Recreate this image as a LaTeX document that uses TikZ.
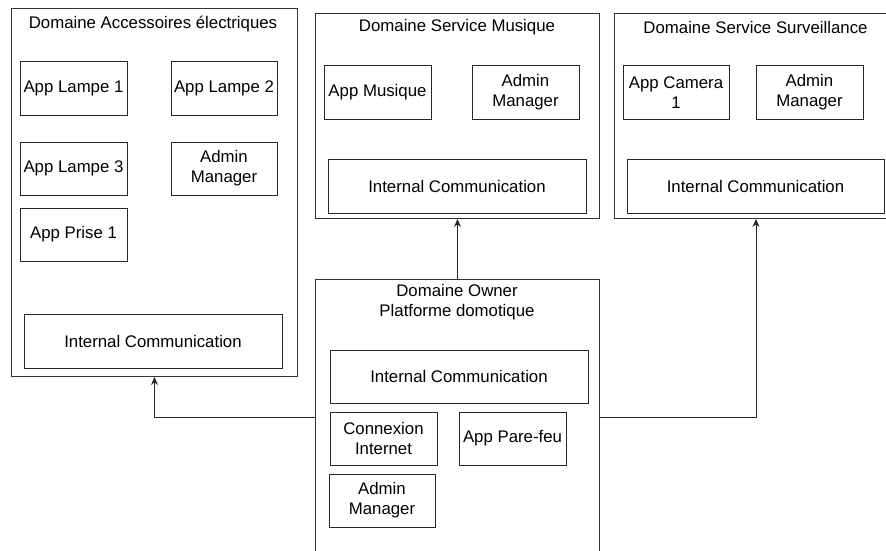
\documentclass[tikz,border=0pt]{standalone}
\usepackage{fontspec}
\setmainfont{Liberation Sans}
\usetikzlibrary{arrows.meta}
\begin{document}
\begin{tikzpicture}[x=1pt,y=-1pt,
  every node/.style={font=\fontsize{16.8}{20}\selectfont, align=center, inner sep=0pt},
  outer/.style={draw=black!80, line width=1pt, anchor=north west},
  inbox/.style={draw=black!85, line width=1pt, minimum width=#1, minimum height=53},
  inbox/.default=107,
  title/.style={anchor=center},
  arr/.style={draw=black!85, line width=1pt, -{Stealth[length=8pt,width=7pt]}}]
\useasboundingbox (0,0) rectangle (886,551);
\clip (0,0) rectangle (886,551);
% outer domains
\node[outer, minimum width=286, minimum height=368] (A) at (11,8) {};
\node[outer, minimum width=284, minimum height=205] (M) at (315,13) {};
\node[outer, minimum width=283, minimum height=205] (S) at (614,13) {};
\node[outer, minimum width=284, minimum height=320] (O) at (315,279) {};
% titles
\node[title] (At) at (153,24) {Domaine Accessoires électriques};
\node[title] (Mt) at (457,27) {Domaine Service Musique};
\node[title] (St) at (755.5,27) {Domaine Service Surveillance};
\node[title] (Ot) at (457,302.5) {Domaine Owner\\Platforme domotique};
% domain A
\node[inbox] (AL1) at (73.5,88.5) {App Lampe 1};
\node[inbox=106] (AL2) at (224,88.5) {App Lampe 2};
\node[inbox] (AL3) at (73.5,168.5) {App Lampe 3};
\node[inbox=106] (AAM) at (224,168.5) {Admin\\Manager};
\node[inbox] (AP1) at (73.5,234.5) {App Prise 1};
\node[inbox=258, minimum height=54] (AIC) at (153,341) {Internal Communication};
% domain M
\node[inbox] (MApp) at (377.5,92.5) {App Musique};
\node[inbox] (MAM) at (525.5,92.5) {Admin\\Manager};
\node[inbox=258, minimum height=54] (MIC) at (457,186) {Internal Communication};
% domain S
\node[inbox=106] (SCam) at (676,92.5) {App Camera\\1};
\node[inbox] (SAM) at (809.5,92.5) {Admin\\Manager};
\node[inbox=257, minimum height=54] (SIC) at (755.5,186) {Internal Communication};
% domain O
\node[inbox=258] (OIC) at (459,376.5) {Internal Communication};
\node[inbox] (OCI) at (383.5,438.5) {Connexion\\Internet};
\node[inbox] (OPF) at (512.5,438.5) {App Pare-feu};
\node[inbox=106] (OAM) at (382,500.5) {Admin\\Manager};
% connectors
\coordinate (lvl) at (0,417);
\draw[arr] (O.north) -- (M.south);
\draw[arr] (O.west |- lvl) -| (A.south);
\draw[arr] (O.east |- lvl) -| (S.south);
\end{tikzpicture}
\end{document}
